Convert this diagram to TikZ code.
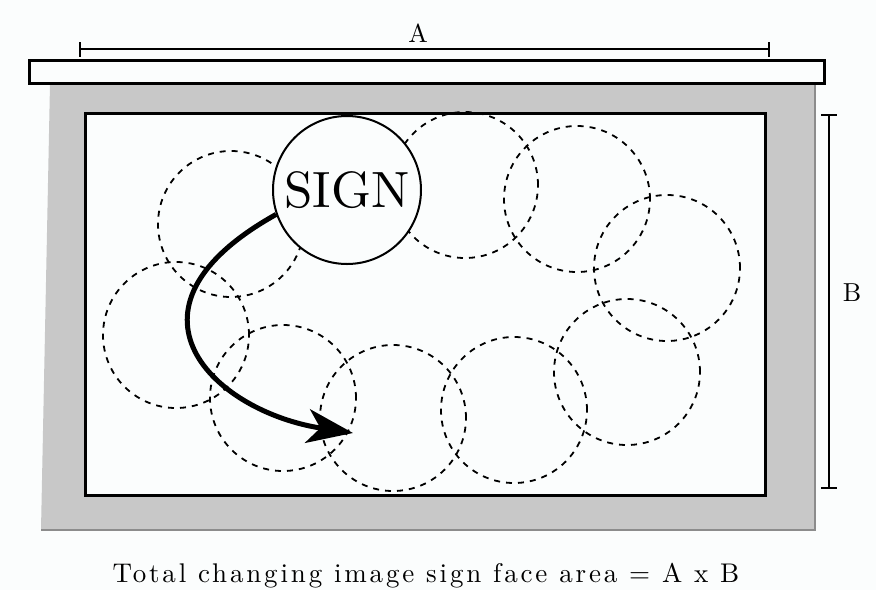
\documentclass[tikz,border=0pt]{standalone}
\usepackage{fontspec}
\setmainfont{lmroman10-regular}[Extension=.otf]
\newfontfamily\capfont{lmroman10-regular}[Extension=.otf, LetterSpace=10.5]
\usetikzlibrary{arrows.meta}
\definecolor{framegray}{HTML}{C8C8C8}
\definecolor{edgegray}{HTML}{8C8C8C}
\definecolor{bgwhite}{HTML}{FBFDFD}
\tikzset{
  frameline/.style={draw=black, line width=3pt, fill=bgwhite},
  dimline/.style={draw=black, line width=2pt},
  dashcircle/.style={circle, draw=black, line width=1.8pt, dash pattern=on 6pt off 6pt, minimum size=146pt, inner sep=0pt},
  signcircle/.style={circle, draw=black, line width=2pt, fill=bgwhite, minimum size=148pt, inner sep=0pt, font=\fontsize{51}{51}\selectfont},
  dimlabel/.style={font=\fontsize{26}{26}\selectfont, inner sep=0pt},
  bigarrow/.style={draw=black, line width=5pt, -{Stealth[length=46pt,width=34pt,inset=13pt]}}
}
\begin{document}
\begin{tikzpicture}[x=1pt,y=-1pt]
\useasboundingbox (0,0) rectangle (876,590);
\fill[bgwhite] (0,0) rectangle (876,590);
% gray frame
\fill[framegray] (50,84) -- (815,84) -- (815,530) -- (41,530) -- cycle;
\draw[edgegray, line width=2pt] (815,84) -- (815,530) -- (41,530);
% top bar
\draw[frameline] (29,60) rectangle (824,83);
% inner face
\draw[frameline] (85,113) rectangle (765,495);
% dashed circles
\node[dashcircle] (c1) at (231,224) {};
\node[dashcircle] (c2) at (176,335) {};
\node[dashcircle] (c3) at (283,398) {};
\node[dashcircle] (c4) at (393,418) {};
\node[dashcircle] (c5) at (514,410) {};
\node[dashcircle] (c6) at (627,372) {};
\node[dashcircle] (c7) at (667,268) {};
\node[dashcircle] (c8) at (577,199) {};
\node[dashcircle] (c9) at (465,185) {};
% sign
\node[signcircle] (sign) at (347,190) {SIGN};
% arrow
\coordinate (tip) at (353,433);
\draw[bigarrow] (sign.199) .. controls (105,310) and (215,412) .. (tip);
% dimension A
\coordinate (a1) at (80,49);
\coordinate (a2) at (769,49);
\draw[dimline] (a1) -- (a2);
\draw[dimline] ([yshift=-7.5pt]a1) -- ([yshift=7.5pt]a1);
\draw[dimline] ([yshift=-7.5pt]a2) -- ([yshift=7.5pt]a2);
\node[dimlabel, anchor=base] (la) at (418,42) {A};
% dimension B
\coordinate (b1) at (829,115);
\coordinate (b2) at (829,488);
\draw[dimline] (b1) -- (b2);
\draw[dimline] ([xshift=-8pt]b1) -- ([xshift=8pt]b1);
\draw[dimline] ([xshift=-8pt]b2) -- ([xshift=8pt]b2);
\node[dimlabel, anchor=base] (lb) at (852,301) {B};
% caption
\node[inner sep=0pt, anchor=base, font=\capfont\fontsize{27}{27}\selectfont] (cap) at (426,582) {Total changing image sign face area = A x B};
\end{tikzpicture}
\end{document}
